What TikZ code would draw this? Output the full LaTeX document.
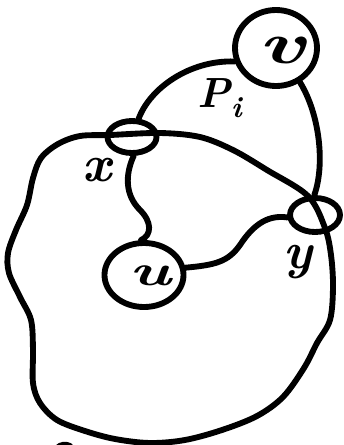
\documentclass[tikz,border=0pt]{standalone}
\usetikzlibrary{shapes.geometric}
\begin{document}
\begin{tikzpicture}[x=0.03cm,y=-0.03cm,line width=5pt,line cap=round,line join=round,
  ring/.style={draw,ellipse,inner sep=0pt},
  lbl/.style={inner sep=0pt,font=\fontsize{44}{44}\selectfont\bfseries\itshape}]
\useasboundingbox (0,0) rectangle (344,445);
% blob
\draw plot[smooth cycle,tension=0.55] coordinates {
 (160,133) (200,137) (233,150) (267,170) (308,196) (325,228) (331,255) (333,287)
 (330,320) (317,343) (304,368) (283,397) (257,416) (222,430) (185,440) (150,443)
 (115,439) (85,431) (57,420) (40,403) (33,383) (33,350) (31,320) (20,297) (9,273)
 (8,253) (16,230) (27,205) (33,178) (41,158) (58,144) (80,136) (110,135)};
% nodes
\node[ring,minimum width=2.46cm,minimum height=2.28cm] (v) at (276,48) {};
\node[ring,minimum width=1.47cm,minimum height=0.96cm] (x) at (132,137) {};
\node[ring,minimum width=1.5cm,minimum height=1.02cm] (y) at (315,215) {};
\node[ring,minimum width=2.37cm,minimum height=1.92cm] (u) at (144,275) {};
% labels
\node[lbl,font=\fontsize{50}{50}\selectfont\bfseries\itshape] (vl) at (282,50) {\scalebox{1.5}[1]{v}};
\node[lbl] (ul) at (150,276) {\scalebox{1.3}[0.85]{u}};
\node[lbl] (xl) at (97,170) {x};
\node[lbl] (yl) at (298,262) {y};
\node[lbl,font=\fontsize{36}{36}\selectfont\bfseries\itshape] (pl) at (220,98) {P\textsubscript{i}};
% connectors
\draw (x.70) .. controls (150,88) and (190,60) .. (v.198);
\draw (v.-55) .. controls (320,115) and (325,165) .. (y.92);
\draw (x.-85) .. controls (125,175) and (125,195) .. (140,210) .. controls (152,222) and (152,235) .. (u.95);
\draw (u.10) .. controls (215,265) and (228,262) .. (240,245) .. controls (255,222) and (270,215) .. (y.185);
% stray pen mark at the bottom edge
\draw (57,448) .. controls (61,444) and (66,444) .. (70,446);
\end{tikzpicture}
\end{document}
